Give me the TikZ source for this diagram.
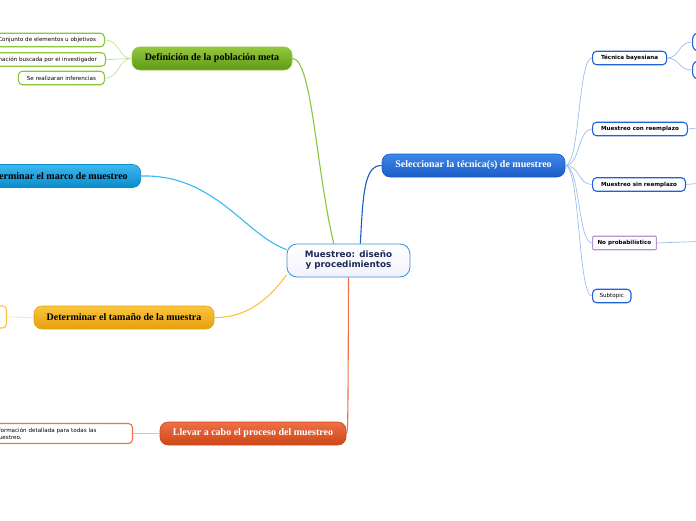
\documentclass[tikz,border=0pt]{standalone}
\usepackage{fontspec}
\setmainfont{Liberation Serif}
\newfontfamily\verdana{DejaVu Sans}
\usetikzlibrary{positioning}
\definecolor{greenTop}{HTML}{93C83F}
\definecolor{greenBot}{HTML}{5E9A12}
\definecolor{greenLine}{HTML}{8CC43A}
\definecolor{cyanTop}{HTML}{3CB8F0}
\definecolor{cyanBot}{HTML}{0B8BCB}
\definecolor{orangeTop}{HTML}{FAC53E}
\definecolor{orangeBot}{HTML}{E6A00E}
\definecolor{redTop}{HTML}{F06F45}
\definecolor{redBot}{HTML}{CC4719}
\definecolor{blueTop}{HTML}{3D88EA}
\definecolor{blueBot}{HTML}{1A5CC6}
\definecolor{subBlue}{HTML}{1C63D8}
\definecolor{fanBlue}{HTML}{9CBDF2}
\definecolor{centerEdge}{HTML}{3A8FD0}
\definecolor{centerText}{HTML}{1C2A55}
\definecolor{noProb}{HTML}{B894D2}

\tikzset{
    topic/.style={rounded corners=8pt, minimum height=23pt, inner xsep=8pt,
        line width=0.6pt, font=\bfseries\fontsize{10}{11}\selectfont},
    sub/.style={rounded corners=4pt, draw=#1, line width=1.1pt, fill=white,
        minimum height=13.5pt, inner xsep=8.5pt, inner ysep=1pt,
        font=\verdana\fontsize{5.6}{6.6}\selectfont},
    subbold/.style={font=\verdana\bfseries\fontsize{5.6}{6.6}\selectfont},
    link/.style={line width=1.1pt},
    twig/.style={line width=0.7pt},
}

\begin{document}
\begin{tikzpicture}[x=1pt,y=-1pt]
    \useasboundingbox (0,0) rectangle (696,520);

    % central topic
    \node[rounded corners=10pt, draw=centerEdge, line width=0.8pt,
        top color=white, bottom color=black!15!blue!5!white,
        minimum width=123pt, minimum height=33pt, align=center,
        text=centerText, font=\verdana\bfseries\fontsize{8.8}{10}\selectfont]
        (root) at (348.5,260.5) {Muestreo: diseño\\y procedimientos};

    % main topics
    \node[topic, top color=greenTop, bottom color=greenBot, draw=greenLine,
        minimum width=160pt] (meta) at (212,58.5) {Definición de la población meta};
    \node[topic, top color=cyanTop, bottom color=cyanBot, draw=cyanBot,
        inner xsep=13pt, anchor=east] (marco) at (141,176) {Determinar el marco de muestreo};
    \node[topic, top color=orangeTop, bottom color=orangeBot, draw=orangeBot,
        minimum width=180pt] (tamano) at (124,317.5) {Determinar el tamaño de la muestra};
    \node[topic, top color=redTop, bottom color=redBot, draw=redBot, text=white,
        minimum width=186pt] (llevar) at (253,433.5) {Llevar a cabo el proceso del muestreo};
    \node[topic, top color=blueTop, bottom color=blueBot, draw=blueBot, text=white,
        minimum width=183pt] (tecnica) at (473.5,165.5) {Seleccionar la técnica(s) de muestreo};

    % subtopics left
    \node[sub=greenLine, anchor=east] (conjunto) at (105,40) {Conjunto de elementos u objetivos};
    \node[sub=greenLine, anchor=east] (buscada) at (106,59.5) {Información buscada por el investigador};
    \node[sub=greenLine, anchor=east] (inferencias) at (105,78) {Se realizaran inferencias};
    \node[sub=orangeTop, anchor=east, minimum width=40pt, minimum height=22pt] (tamanoSub) at (7,317) {};
    \node[sub=redTop, anchor=east, align=left, inner xsep=4pt, text width=135pt, minimum height=20pt]
        (detalle) at (133,433.5) {Información detallada para todas las\\muestreo.};

    % subtopics right
    \node[sub=subBlue, subbold, anchor=west] (bayes) at (592,58) {Técnica bayesiana};
    \node[sub=subBlue, subbold, anchor=west] (con) at (592,129) {Muestreo con reemplazo};
    \node[sub=subBlue, subbold, anchor=west] (sin) at (592,184.5) {Muestreo sin reemplazo};
    \node[sub=noProb, subbold, anchor=west, rounded corners=1pt, inner xsep=5pt]
        (noprob) at (592,243) {No probabilístico};
    \node[sub=subBlue, anchor=west, inner xsep=7pt] (subtopic) at (592,296) {Subtopic};
    \node[sub=subBlue, anchor=west, minimum width=30pt, minimum height=19pt, rounded corners=7pt]
        (bayesA) at (692,42) {};
    \node[sub=subBlue, anchor=west, minimum width=30pt, minimum height=19pt, rounded corners=7pt]
        (bayesB) at (692,70) {};
    \coordinate (conOut) at (697,128);
    \coordinate (sinOut) at (697,183.5);
    \coordinate (noprobOut) at (697,241.5);

    % links from the centre
    \draw[link, greenLine] (meta.east) .. controls (312,58) and (316,170) .. (root.131);
    \draw[link, cyanTop] (marco.east) .. controls (215,174) and (245,235) .. (root.170);
    \draw[link, orangeTop] (tamano.east) .. controls (252,318) and (274,292) .. (root.193);
    \draw[link, redTop] (root.south) .. controls (348,420) and (348,434) .. (llevar.east);
    \draw[link, blueBot] (root.55) .. controls (363,195) and (364,165) .. (tecnica.west);

    % twigs
    \foreach \s in {conjunto, buscada, inferencias}
        \draw[twig, greenLine!50] (meta.west) .. controls (118,58.5) and (120,0|-\s.east) .. (\s.east);
    \draw[twig, orangeTop!50] (tamano.west) -- (tamanoSub.east);
    \draw[twig, redTop!50] (llevar.west) -- (detalle.east);
    \foreach \s in {bayes, con, sin, noprob, subtopic}
        \draw[twig, fanBlue] (tecnica.east) .. controls (580,165.5) and (578,0|-\s.west) .. (\s.west);
    \foreach \s in {bayesA, bayesB}
        \draw[twig, fanBlue] (bayes.east) .. controls (680,58) and (678,0|-\s.west) .. (\s.west);
    \draw[twig, fanBlue] (con.east) -- (conOut);
    \draw[twig, fanBlue] (sin.east) -- (sinOut);
    \draw[twig, fanBlue] (noprob.east) -- (noprobOut);
\end{tikzpicture}
\end{document}
